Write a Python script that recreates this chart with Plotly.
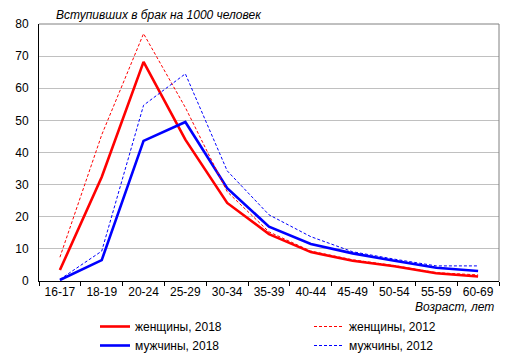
import plotly.graph_objects as go

categories = ["16-17", "18-19", "20-24", "25-29", "30-34", "35-39", "40-44", "45-49", "50-54", "55-59", "60-69"]
women_2018 = [3.4, 32.4, 68.2, 44.0, 24.3, 14.6, 9.0, 6.3, 4.6, 2.4, 1.4]
men_2018 = [0.3, 6.5, 43.6, 49.5, 28.9, 16.9, 11.5, 8.6, 6.3, 4.1, 3.1]
women_2012 = [7.4, 45.5, 77.0, 54.0, 27.8, 15.3, 9.3, 6.6, 4.8, 2.6, 1.9]
men_2012 = [0.5, 9.3, 54.7, 64.5, 34.3, 20.6, 13.8, 9.1, 6.8, 4.7, 4.7]

yticks = [0, 10, 20, 30, 40, 50, 60, 70, 80]
title_text = "Вступивших в брак на 1000 человек"
xaxis_text = "Возраст, лет"

FONT = "Liberation Sans, Arial, sans-serif"
OFF = 8  # page body margin
W, H = 515 - OFF, 357 - OFF
ML, MR, MT, MB = 39 - OFF, 16, 24 - OFF, 76
PW, PH = W - ML - MR, H - MT - MB


def px_x(x):
    return (x - OFF - ML) / PW


def px_y(y):
    return (H - MB - (y - OFF)) / PH


fig = go.Figure()
fig.add_trace(go.Scatter(x=categories, y=women_2018, mode="lines", name="женщины, 2018",
                         legend="legend", line=dict(color="#ff0000", width=2.6)))
fig.add_trace(go.Scatter(x=categories, y=men_2018, mode="lines", name="мужчины, 2018",
                         legend="legend", line=dict(color="#0000ff", width=2.6)))
fig.add_trace(go.Scatter(x=categories, y=women_2012, mode="lines", name="женщины, 2012",
                         legend="legend2", line=dict(color="#ff0000", width=1, dash="3px,2px")))
fig.add_trace(go.Scatter(x=categories, y=men_2012, mode="lines", name="мужчины, 2012",
                         legend="legend2", line=dict(color="#0000ff", width=1, dash="3px,2px")))

leg_common = dict(orientation="v", yanchor="top", xanchor="left", tracegroupgap=0,
                  font=dict(size=12, family=FONT), bgcolor="rgba(0,0,0,0)", itemwidth=30)

fig.update_layout(
    width=W, height=H,
    margin=dict(l=ML, r=MR, t=MT, b=MB, autoexpand=False),
    paper_bgcolor="white", plot_bgcolor="white",
    font=dict(family=FONT, size=12, color="#000000"),
    showlegend=True,
    legend=dict(x=px_x(95), y=px_y(312), **leg_common),
    legend2=dict(x=px_x(309), y=px_y(312), **leg_common),
    xaxis=dict(type="category", tickson="boundaries", ticks="outside", ticklen=4,
               tickcolor="#000000", showgrid=False, showline=True, linecolor="#000000",
               linewidth=1, mirror=False, range=[-0.5, 10.5], tickfont=dict(size=12)),
    yaxis=dict(range=[0, 80], tickvals=yticks, showgrid=True, gridcolor="#c0c0c0",
               gridwidth=1, showline=True, linecolor="#000000", linewidth=1,
               ticks="", ticklabelstandoff=7, zeroline=False, tickfont=dict(size=12)),
    shapes=[
        dict(type="line", xref="paper", yref="paper", x0=0, x1=1, y0=1, y1=1,
             line=dict(color="#808080", width=1)),
        dict(type="line", xref="paper", yref="paper", x0=1, x1=1, y0=0, y1=1,
             line=dict(color="#808080", width=1)),
    ],
    annotations=[
        dict(text=title_text, xref="paper", yref="paper", x=px_x(54), y=1,
             xanchor="left", yanchor="bottom", yshift=0, showarrow=False,
             font=dict(size=12, family=FONT, style="italic")),
        dict(text=xaxis_text, xref="paper", yref="paper", x=px_x(496), y=0,
             xanchor="right", yanchor="middle", yshift=-(307 - 281), showarrow=False,
             font=dict(size=12, family=FONT, style="italic")),
    ],
)

fig.write_html("out.html")
